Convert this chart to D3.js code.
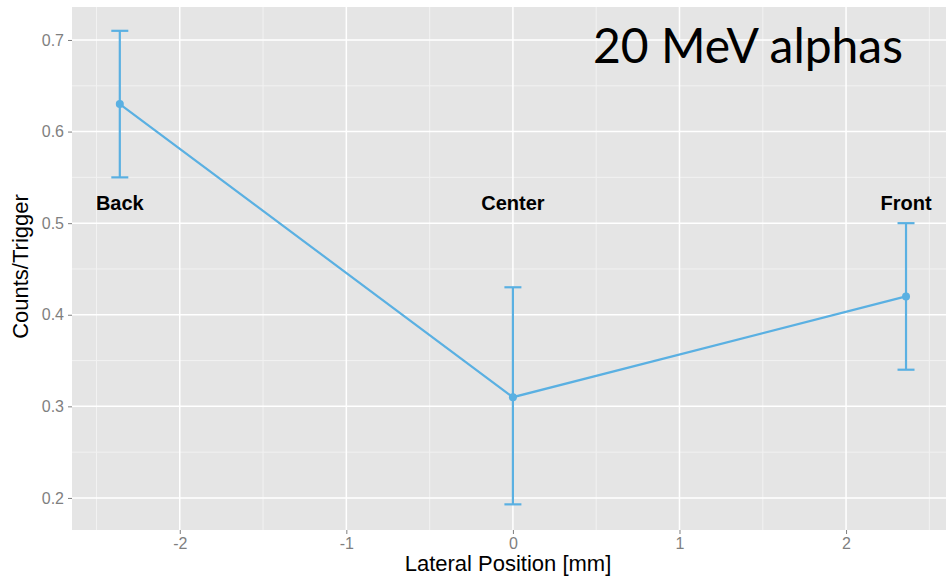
<!DOCTYPE html>
<html><head><meta charset="utf-8">
<script src="https://cdn.jsdelivr.net/npm/d3@7"></script>
<style>body{margin:0;background:#fff}svg{display:block}</style>
</head><body><svg id="c" width="946" height="578"></svg>
<script>
const positions = [-2.36, 0, 2.36];
const labels = ["Back", "Center", "Front"];
const counts = [0.63, 0.31, 0.42];
const lower = [0.55, 0.193, 0.34];
const upper = [0.71, 0.43, 0.50];
const xTicks = [-2, -1, 0, 1, 2];
const yTicks = [0.2, 0.3, 0.4, 0.5, 0.6, 0.7];
const xMinor = [-2.5, -1.5, -0.5, 0.5, 1.5, 2.5];
const yMinor = [0.25, 0.35, 0.45, 0.55, 0.65];
const title = "20 MeV alphas";

const svg = d3.select("#c");
const L = 72, R = 946, T = 7, B = 530;
const x = d3.scaleLinear().domain([-2.647, 2.6]).range([L, R]);
const y = d3.scaleLinear().domain([0.165, 0.736]).range([B, T]);
const col = "#5ab0e2";
const font = "'Liberation Sans', Arial, sans-serif";

svg.append("rect").attr("x", L).attr("y", T).attr("width", R - L).attr("height", B - T).attr("fill", "#e5e5e5");
const g = svg.append("g");
g.selectAll(".xm").data(xMinor).join("line").attr("x1", d => x(d)).attr("x2", d => x(d)).attr("y1", T).attr("y2", B).attr("stroke", "#f2f2f2").attr("stroke-width", 1);
g.selectAll(".ym").data(yMinor).join("line").attr("y1", d => y(d)).attr("y2", d => y(d)).attr("x1", L).attr("x2", R).attr("stroke", "#f2f2f2").attr("stroke-width", 1);
g.selectAll(".xM").data(xTicks).join("line").attr("x1", d => x(d)).attr("x2", d => x(d)).attr("y1", T).attr("y2", B).attr("stroke", "#fff").attr("stroke-width", 1.5);
g.selectAll(".yM").data(yTicks).join("line").attr("y1", d => y(d)).attr("y2", d => y(d)).attr("x1", L).attr("x2", R).attr("stroke", "#fff").attr("stroke-width", 1.5);

// axes
const xa = svg.append("g").attr("transform", `translate(0,${B})`)
  .call(d3.axisBottom(x).tickValues(xTicks).tickSize(4).tickPadding(4).tickFormat(d => String(d)));
const ya = svg.append("g").attr("transform", `translate(${L},0)`)
  .call(d3.axisLeft(y).tickValues(yTicks).tickSize(4).tickPadding(4).tickFormat(d => d.toFixed(1)));
[xa, ya].forEach(a => {
  a.select(".domain").remove();
  a.selectAll(".tick line").attr("stroke", "#7f7f7f");
  a.selectAll(".tick text").attr("fill", "#7f7f7f").style("font-family", font).style("font-size", "16px");
});

// title text
svg.append("text").attr("x", 593).attr("y", 63).attr("textLength", 310).attr("lengthAdjust", "spacingAndGlyphs")
  .style("font-family", "Lato, 'Open Sans', sans-serif").style("font-size", "48px").attr("fill", "#000").text(title);

const pts = positions.map((p, i) => ({x: p, y: counts[i], lo: lower[i], hi: upper[i], lab: labels[i]}));
svg.append("path").datum(pts).attr("fill", "none").attr("stroke", col).attr("stroke-width", 2.2)
  .attr("d", d3.line().x(d => x(d.x)).y(d => y(d.y)));
const eb = svg.append("g").attr("stroke", col).attr("stroke-width", 2.2);
eb.selectAll(".v").data(pts).join("line").attr("x1", d => x(d.x)).attr("x2", d => x(d.x)).attr("y1", d => y(d.lo)).attr("y2", d => y(d.hi));
eb.selectAll(".t").data(pts).join("line").attr("x1", d => x(d.x) - 8.5).attr("x2", d => x(d.x) + 8.5).attr("y1", d => y(d.hi)).attr("y2", d => y(d.hi));
eb.selectAll(".b").data(pts).join("line").attr("x1", d => x(d.x) - 8.5).attr("x2", d => x(d.x) + 8.5).attr("y1", d => y(d.lo)).attr("y2", d => y(d.lo));
svg.selectAll(".pt").data(pts).join("circle").attr("cx", d => x(d.x)).attr("cy", d => y(d.y)).attr("r", 4).attr("fill", col);

svg.selectAll(".lab").data(pts).join("text").attr("x", d => x(d.x)).attr("y", 210).attr("text-anchor", "middle")
  .style("font-family", font).style("font-size", "20px").style("font-weight", "bold").attr("fill", "#000").text(d => d.lab);

svg.append("text").attr("x", (L + R) / 2 - 1).attr("y", 571).attr("text-anchor", "middle")
  .style("font-family", font).style("font-size", "22px").attr("fill", "#000").text("Lateral Position [mm]");
svg.append("text").attr("transform", `translate(28,${(193 + 340) / 2}) rotate(-90)`).attr("text-anchor", "middle")
  .style("font-family", font).style("font-size", "22px").attr("fill", "#000").text("Counts/Trigger");
</script></body></html>
